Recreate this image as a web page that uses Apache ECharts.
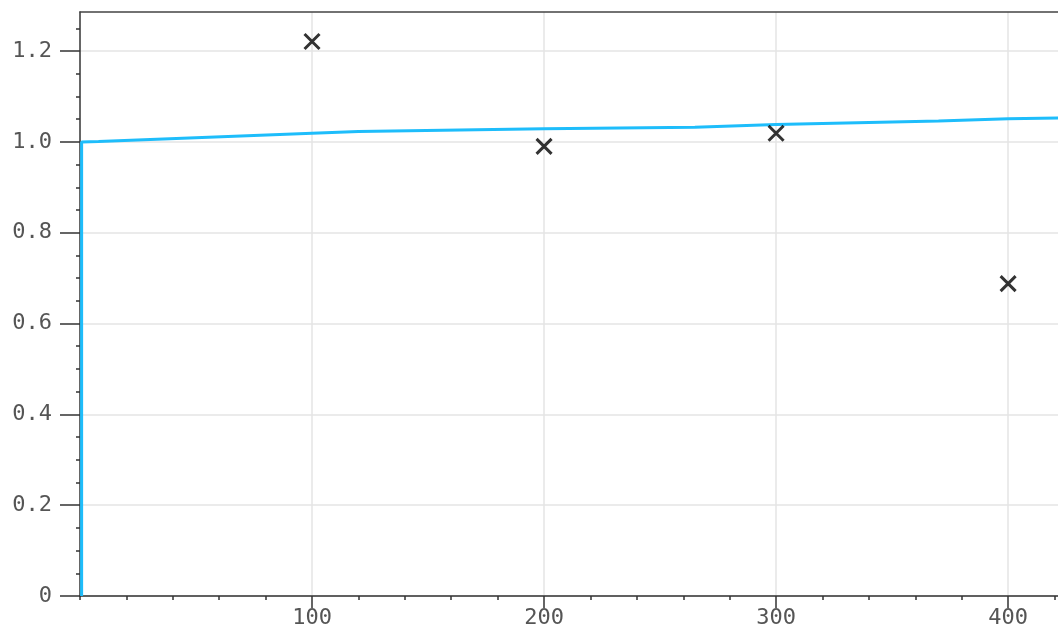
<!DOCTYPE html>
<html>
<head>
<meta charset="utf-8">
<script src="https://cdn.jsdelivr.net/npm/echarts@6/dist/echarts.min.js"></script>
<style>
html,body{margin:0;padding:0;background:#fff;}
#c{width:1058px;height:634px;}
</style>
</head>
<body>
<div id="c"></div>
<script>
// Data
const lineX = [0.7, 0.7, 8, 100, 120, 200, 265, 300, 370, 400, 425];
const lineY = [0, 1.0, 1.001, 1.019, 1.023, 1.029, 1.032, 1.038, 1.046, 1.051, 1.053];
const pointX = [100, 200, 300, 400];
const pointY = [1.221, 0.990, 1.019, 0.688];
const yTickValues = [0, 0.2, 0.4, 0.6, 0.8, 1.0, 1.2];
const yTickLabels = ['0', '0.2', '0.4', '0.6', '0.8', '1.0', '1.2'];
const yMinorValues = [0.05,0.1,0.15,0.25,0.3,0.35,0.45,0.5,0.55,0.65,0.7,0.75,0.85,0.9,0.95,1.05,1.1,1.15,1.25];
const xTickValues = [100, 200, 300, 400];
const xTickLabels = ['100', '200', '300', '400'];
const xMinorValues = [0,20,40,60,80,120,140,160,180,220,240,260,280,320,340,360,380,420];

const yLabelMap = {};
yTickValues.forEach((v, i) => { yLabelMap[v.toFixed(2)] = yTickLabels[i]; });
const xLabelMap = {};
xTickValues.forEach((v, i) => { xLabelMap[String(v)] = xTickLabels[i]; });

const chart = echarts.init(document.getElementById('c'), null, {renderer: 'canvas'});
const fontFam = 'DejaVu Sans Mono';
const axisCol = '#333';
chart.setOption({
  animation: false,
  backgroundColor: '#fff',
  grid: {left: 80, top: 12, right: 0, bottom: 38, show: false, containLabel: false},
  xAxis: [{
    type: 'value', min: 0, max: 421.5, position: 'bottom',
    axisLine: {show: true, onZero: false, lineStyle: {color: axisCol, width: 1.5}},
    axisTick: {show: true, length: 12, customValues: xTickValues, lineStyle: {color: axisCol, width: 1.5}},
    splitLine: {show: true, lineStyle: {color: '#e4e4e4', width: 1.5}},
    axisLabel: {
      show: true, margin: 11, color: '#555', fontFamily: fontFam, fontSize: 22,
      customValues: xTickValues,
      formatter: v => xLabelMap[String(Math.round(v))] || ''
    }
  }, {
    type: 'value', min: 0, max: 421.5, position: 'bottom',
    axisLine: {show: false, onZero: false},
    axisTick: {show: true, length: 4, customValues: xMinorValues, lineStyle: {color: axisCol, width: 1.5}},
    splitLine: {show: false},
    axisLabel: {show: false}
  }, {
    type: 'value', min: 0, max: 421.5, position: 'top',
    axisLine: {show: true, onZero: false, lineStyle: {color: '#444', width: 1.5}},
    axisTick: {show: false},
    splitLine: {show: false},
    axisLabel: {show: false}
  }],
  yAxis: [{
    type: 'value', min: 0, max: 1.286, interval: 0.2,
    axisLine: {show: true, onZero: false, lineStyle: {color: axisCol, width: 1.5}},
    axisTick: {show: true, length: 20, customValues: yTickValues, lineStyle: {color: axisCol, width: 1.5}},
    splitLine: {show: true, lineStyle: {color: '#e4e4e4', width: 1.5}},
    axisLabel: {
      show: true, margin: 28, color: '#555', fontFamily: fontFam, fontSize: 22,
      customValues: yTickValues,
      formatter: v => yLabelMap[Number(v).toFixed(2)] || ''
    }
  }, {
    type: 'value', min: 0, max: 1.286, position: 'left',
    axisLine: {show: false},
    axisTick: {show: true, length: 4, customValues: yMinorValues, lineStyle: {color: axisCol, width: 1.5}},
    splitLine: {show: false},
    axisLabel: {show: false}
  }],
  series: [{
    type: 'line',
    xAxisIndex: 0, yAxisIndex: 0,
    data: lineX.map((x, i) => [x, lineY[i]]),
    showSymbol: false,
    symbol: 'none',
    lineStyle: {color: '#1ebdfb', width: 3},
    clip: true,
    z: 2
  }, {
    type: 'scatter',
    xAxisIndex: 0, yAxisIndex: 0,
    data: pointX.map((x, i) => [x, pointY[i]]),
    symbol: 'path://M0,0L10,10M10,0L0,10',
    symbolSize: 15,
    itemStyle: {color: 'rgba(0,0,0,0)', borderColor: '#000', borderWidth: 3},
    z: 3
  }]
});
</script>
</body>
</html>
